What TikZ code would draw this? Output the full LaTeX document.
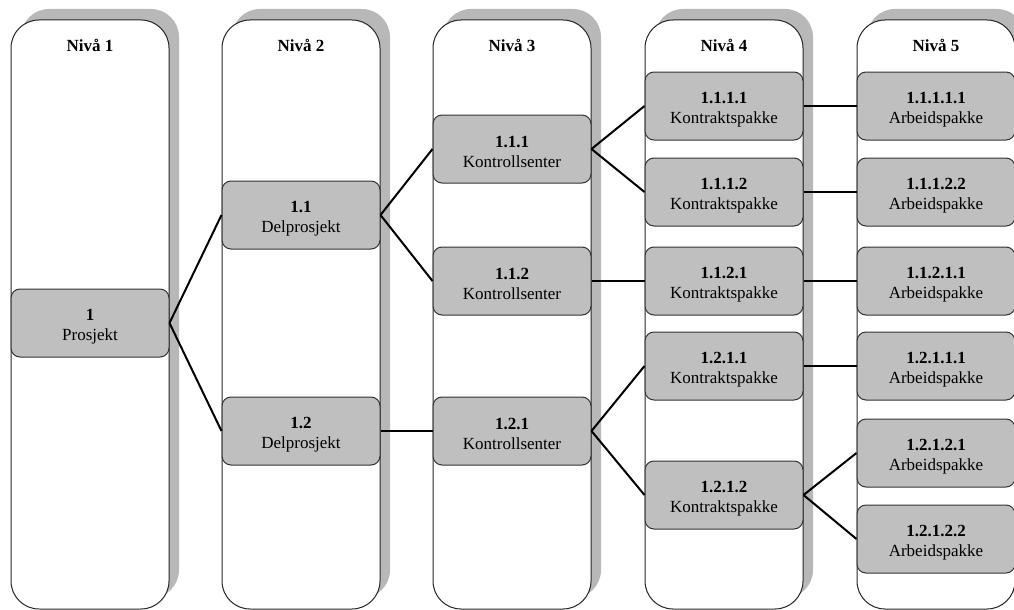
\documentclass[tikz,border=0pt]{standalone}
\usepackage{fontspec}
\setmainfont{Liberation Serif}
% two-line box text: bold number over a label; the strut lowers the block a little
\newcommand\wbsitem[2]{\rule{0pt}{18pt}\textbf{#1}\\#2}
\begin{document}
\begin{tikzpicture}[x=1pt,y=-1pt,
  colbox/.style={draw=black!85, line width=1pt, fill=white, rounded corners=28pt},
  colshadow/.style={fill=black!28, rounded corners=28pt},
  wbs/.style={draw=black!80, line width=1pt, fill=black!25, rounded corners=9pt,
    minimum width=158pt, minimum height=68pt, inner sep=0pt, align=center,
    font=\fontsize{17}{20}\selectfont},
  head/.style={font=\fontsize{17}{20}\selectfont\bfseries, anchor=base},
  link/.style={line width=2pt, black}]
\useasboundingbox (0,0) rectangle (1014,610);

% level columns with their drop shadows
\foreach \l in {11,222,433,645,857}{
  \fill[colshadow] (\l+10,9) rectangle (\l+168,598);
  \draw[colbox] (\l,20) rectangle (\l+158,609);
}

% column headings
\node[head] (h1) at (90,52)  {Nivå 1};
\node[head] (h2) at (301,52) {Nivå 2};
\node[head] (h3) at (512,52) {Nivå 3};
\node[head] (h4) at (724,52) {Nivå 4};
\node[head] (h5) at (936,52) {Nivå 5};

% level 1
\node[wbs] (n1) at (90,323) {\wbsitem{1}{Prosjekt}};
% level 2
\node[wbs] (n11) at (301,215) {\wbsitem{1.1}{Delprosjekt}};
\node[wbs] (n12) at (301,431) {\wbsitem{1.2}{Delprosjekt}};
% level 3
\node[wbs] (n111) at (512,149) {\wbsitem{1.1.1}{Kontrollsenter}};
\node[wbs] (n112) at (512,281) {\wbsitem{1.1.2}{Kontrollsenter}};
\node[wbs] (n121) at (512,431) {\wbsitem{1.2.1}{Kontrollsenter}};
% level 4
\node[wbs] (n1111) at (724,106) {\wbsitem{1.1.1.1}{Kontraktspakke}};
\node[wbs] (n1112) at (724,192) {\wbsitem{1.1.1.2}{Kontraktspakke}};
\node[wbs] (n1121) at (724,281) {\wbsitem{1.1.2.1}{Kontraktspakke}};
\node[wbs] (n1211) at (724,366) {\wbsitem{1.2.1.1}{Kontraktspakke}};
\node[wbs] (n1212) at (724,495) {\wbsitem{1.2.1.2}{Kontraktspakke}};
% level 5
\node[wbs] (n11111) at (936,106) {\wbsitem{1.1.1.1.1}{Arbeidspakke}};
\node[wbs] (n11122) at (936,192) {\wbsitem{1.1.1.2.2}{Arbeidspakke}};
\node[wbs] (n11211) at (936,281) {\wbsitem{1.1.2.1.1}{Arbeidspakke}};
\node[wbs] (n12111) at (936,366) {\wbsitem{1.2.1.1.1}{Arbeidspakke}};
\node[wbs] (n12121) at (936,453) {\wbsitem{1.2.1.2.1}{Arbeidspakke}};
\node[wbs] (n12122) at (936,539) {\wbsitem{1.2.1.2.2}{Arbeidspakke}};

% tree connectors
\draw[link] (n1.east) -- (n11.west);
\draw[link] (n1.east) -- (n12.west);
\draw[link] (n11.east) -- (n111.west);
\draw[link] (n11.east) -- (n112.west);
\draw[link] (n12.east) -- (n121.west);
\draw[link] (n111.east) -- (n1111.west);
\draw[link] (n111.east) -- (n1112.west);
\draw[link] (n112.east) -- (n1121.west);
\draw[link] (n121.east) -- (n1211.west);
\draw[link] (n121.east) -- (n1212.west);
\draw[link] (n1111.east) -- (n11111.west);
\draw[link] (n1112.east) -- (n11122.west);
\draw[link] (n1121.east) -- (n11211.west);
\draw[link] (n1211.east) -- (n12111.west);
\draw[link] (n1212.east) -- (n12121.west);
\draw[link] (n1212.east) -- (n12122.west);
\end{tikzpicture}
\end{document}
